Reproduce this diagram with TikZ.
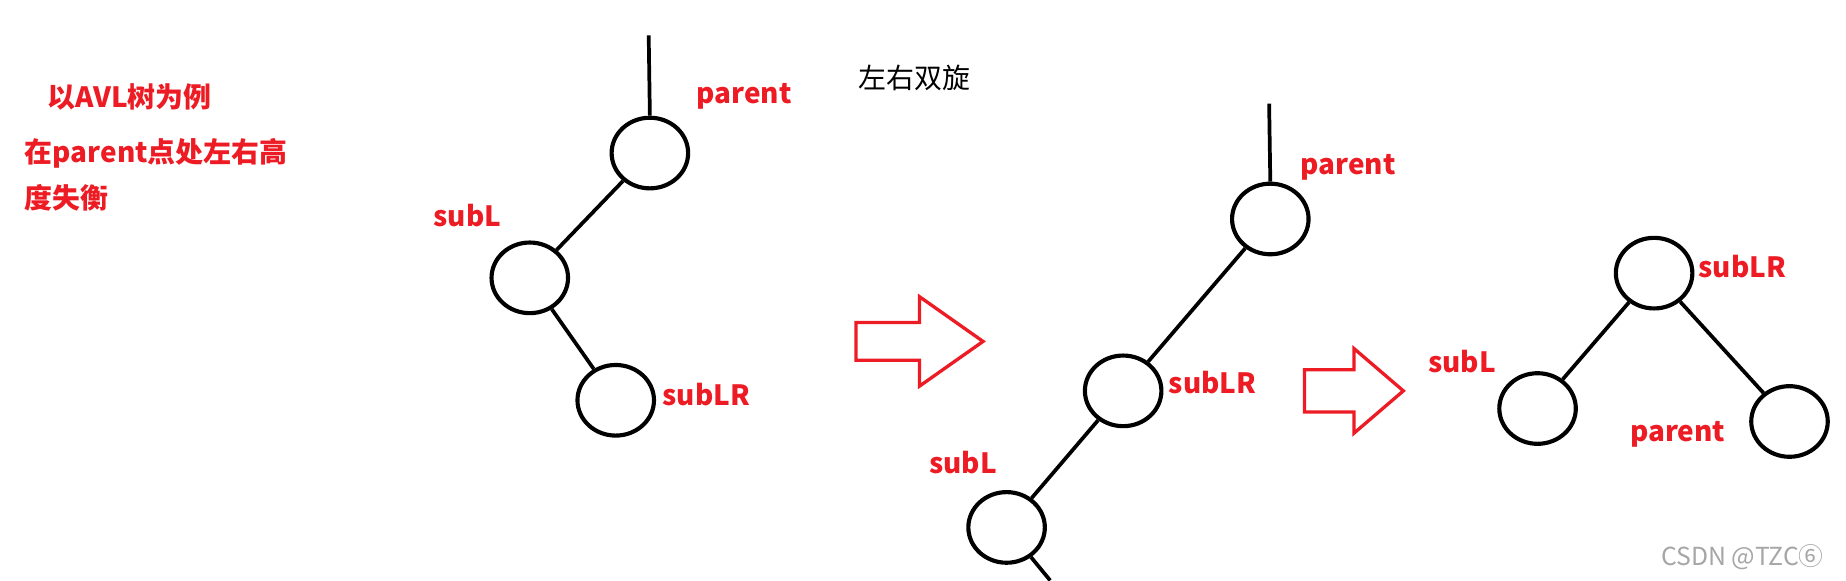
\documentclass[tikz,border=0pt]{standalone}
\usepackage{fontspec}
\setmainfont{Noto Sans CJK SC}
\newfontfamily\cjk{Noto Sans CJK SC}
\usetikzlibrary{shapes.geometric, arrows}
\definecolor{mred}{RGB}{237,28,36}
\tikzstyle{treenode} = [ellipse, minimum width=1.3cm, minimum height=1.2cm, draw=black, line width=2pt]
\tikzstyle{edge} = [line width=1.8pt]
\tikzstyle{redlabel} = [text=mred, font=\cjk\bfseries\fontsize{13.5}{17}\selectfont]
\tikzstyle{bigarrow} = [draw=mred, line width=1.6pt]

\begin{document}
\begin{tikzpicture}[x=0.02cm, y=-0.02cm]
        \useasboundingbox (0,0) rectangle (1568,493);
        % notes
        \node (note1) [redlabel] at (110,82) {以AVL树为例};
        \node (note2) [redlabel, anchor=west] at (15,130) {在parent点处左右高};
        \node (note3) [redlabel, anchor=west] at (15,168) {度失衡};
        \node (title) [font=\cjk\fontsize{13.5}{17}\selectfont] at (777,66) {左右双旋};
        % first tree
        \coordinate (top1) at (551,30);
        \node (parent1) [treenode] at (552,130) {};
        \node (subL1) [treenode] at (450,236) {};
        \node (subLR1) [treenode] at (523,340) {};
        \draw [edge] (top1) -- (parent1.north);
        \draw [edge] (parent1) -- (subL1);
        \draw [edge] (subL1) -- (subLR1);
        \node [redlabel] at (632,82) {parent};
        \node [redlabel] at (397,183) {subL};
        \node [redlabel] at (600,335) {subLR};
        % first arrow
        \draw [bigarrow] (727,274) -- (781,274) -- (781,252) -- (835,290) -- (781,328) -- (781,306) -- (727,306) -- cycle;
        % second tree
        \coordinate (top2) at (1078,88);
        \node (parent2) [treenode] at (1079,186) {};
        \node (subLR2) [treenode] at (954,332) {};
        \node (subL2) [treenode] at (855,448) {};
        \coordinate (cut2) at (892,493);
        \draw [edge] (top2) -- (parent2.north);
        \draw [edge] (parent2) -- (subLR2);
        \draw [edge] (subLR2) -- (subL2);
        \draw [edge] (subL2) -- (cut2);
        \node [redlabel] at (1145,142) {parent};
        \node [redlabel] at (1030,325) {subLR};
        \node [redlabel] at (818,393) {subL};
        % second arrow
        \draw [bigarrow] (1108,314) -- (1150,314) -- (1150,296) -- (1192,332) -- (1150,368) -- (1150,350) -- (1108,350) -- cycle;
        % third tree
        \node (subLR3) [treenode] at (1405,232) {};
        \node (subL3) [treenode] at (1306,347) {};
        \node (parent3) [treenode] at (1520,358) {};
        \draw [edge] (subLR3) -- (subL3);
        \draw [edge] (subLR3) -- (parent3);
        \node [redlabel] at (1480,226) {subLR};
        \node [redlabel] at (1242,307) {subL};
        \node [redlabel] at (1425,369) {parent};
        \node (mark) [text=gray!70, font=\cjk\fontsize{12}{14}\selectfont] at (1480,473) {CSDN @TZC⑥};
    \end{tikzpicture}
\end{document}
